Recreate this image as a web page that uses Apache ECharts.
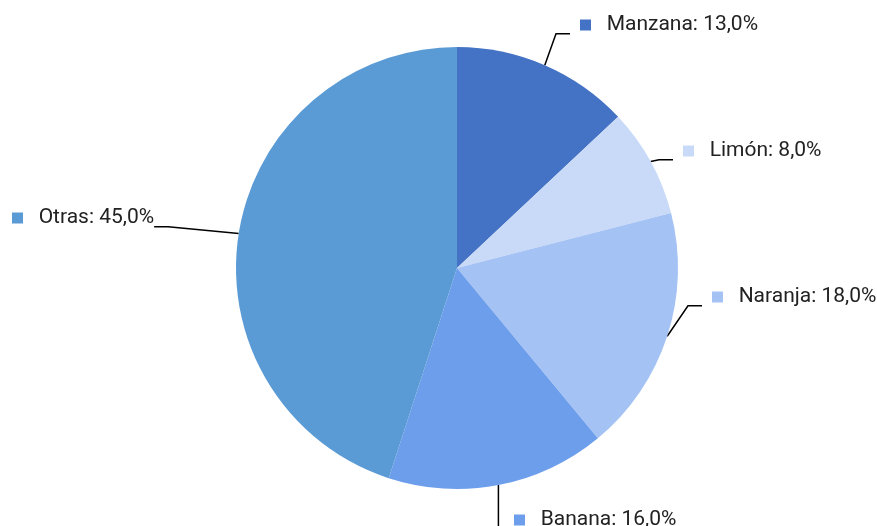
<!DOCTYPE html>
<html>
<head>
<meta charset="utf-8">
<script src="https://cdn.jsdelivr.net/npm/echarts@6/dist/echarts.min.js"></script>
<style>
  html, body { margin: 0; padding: 0; background: #fff; }
  #chart { width: 877px; height: 526px; }
</style>
</head>
<body>
<div id="chart"></div>
<script>
  // datos del gráfico
  const frutas = ['Manzana', 'Limón', 'Naranja', 'Banana', 'Otras']
  const porcentajes = [13, 8, 18, 16, 45]
  const colores = ['#4472C4', '#C9DAF8', '#A4C2F4', '#6D9EEB', '#5B9BD5']

  // posición de cada etiqueta (x del borde izquierdo de la caja, y del centro de la caja)
  const posEtiquetas = [[570, 32], [673, 158], [702, 304], [504, 527], [12, 225]]

  let chart = echarts.init(document.getElementById('chart'))

  let datos = frutas.map((f, i) => ({
    name: f,
    value: porcentajes[i],
    itemStyle: { color: colores[i] },
    label: {
      rich: {
        m: { backgroundColor: colores[i], width: 11, height: 11 }
      }
    }
  }))

  chart.setOption({
    animation: false,
    series: [{
      type: 'pie',
      center: [457, 268],
      radius: 221,
      startAngle: 90,
      clockwise: true,
      data: datos,
      label: {
        fontFamily: 'Roboto',
        fontSize: 21,
        color: '#222',
        overflow: 'none',
        formatter: (p) => {
          let txt = p.name + ': ' + p.value.toFixed(1).replace('.', ',') + '%'
          // hueco entre la línea y la etiqueta; la línea de abajo baja el punto de unión
          if (p.dataIndex === 4) return '{m|}   ' + txt + '{g|}\n{s|}'
          return '{g|}{m|}   ' + txt + '\n{s|}'
        },
        rich: {
          g: { width: 10, height: 1 },
          s: { width: 1, height: 14, lineHeight: 14 }
        }
      },
      labelLine: {
        length: 35,
        length2: 14,
        lineStyle: { color: '#000', width: 1.5 }
      },
      labelLayout: (p) => ({
        x: posEtiquetas[p.dataIndex][0],
        y: posEtiquetas[p.dataIndex][1],
        align: 'left',
        verticalAlign: 'middle'
      })
    }]
  })
</script>
</body>
</html>
